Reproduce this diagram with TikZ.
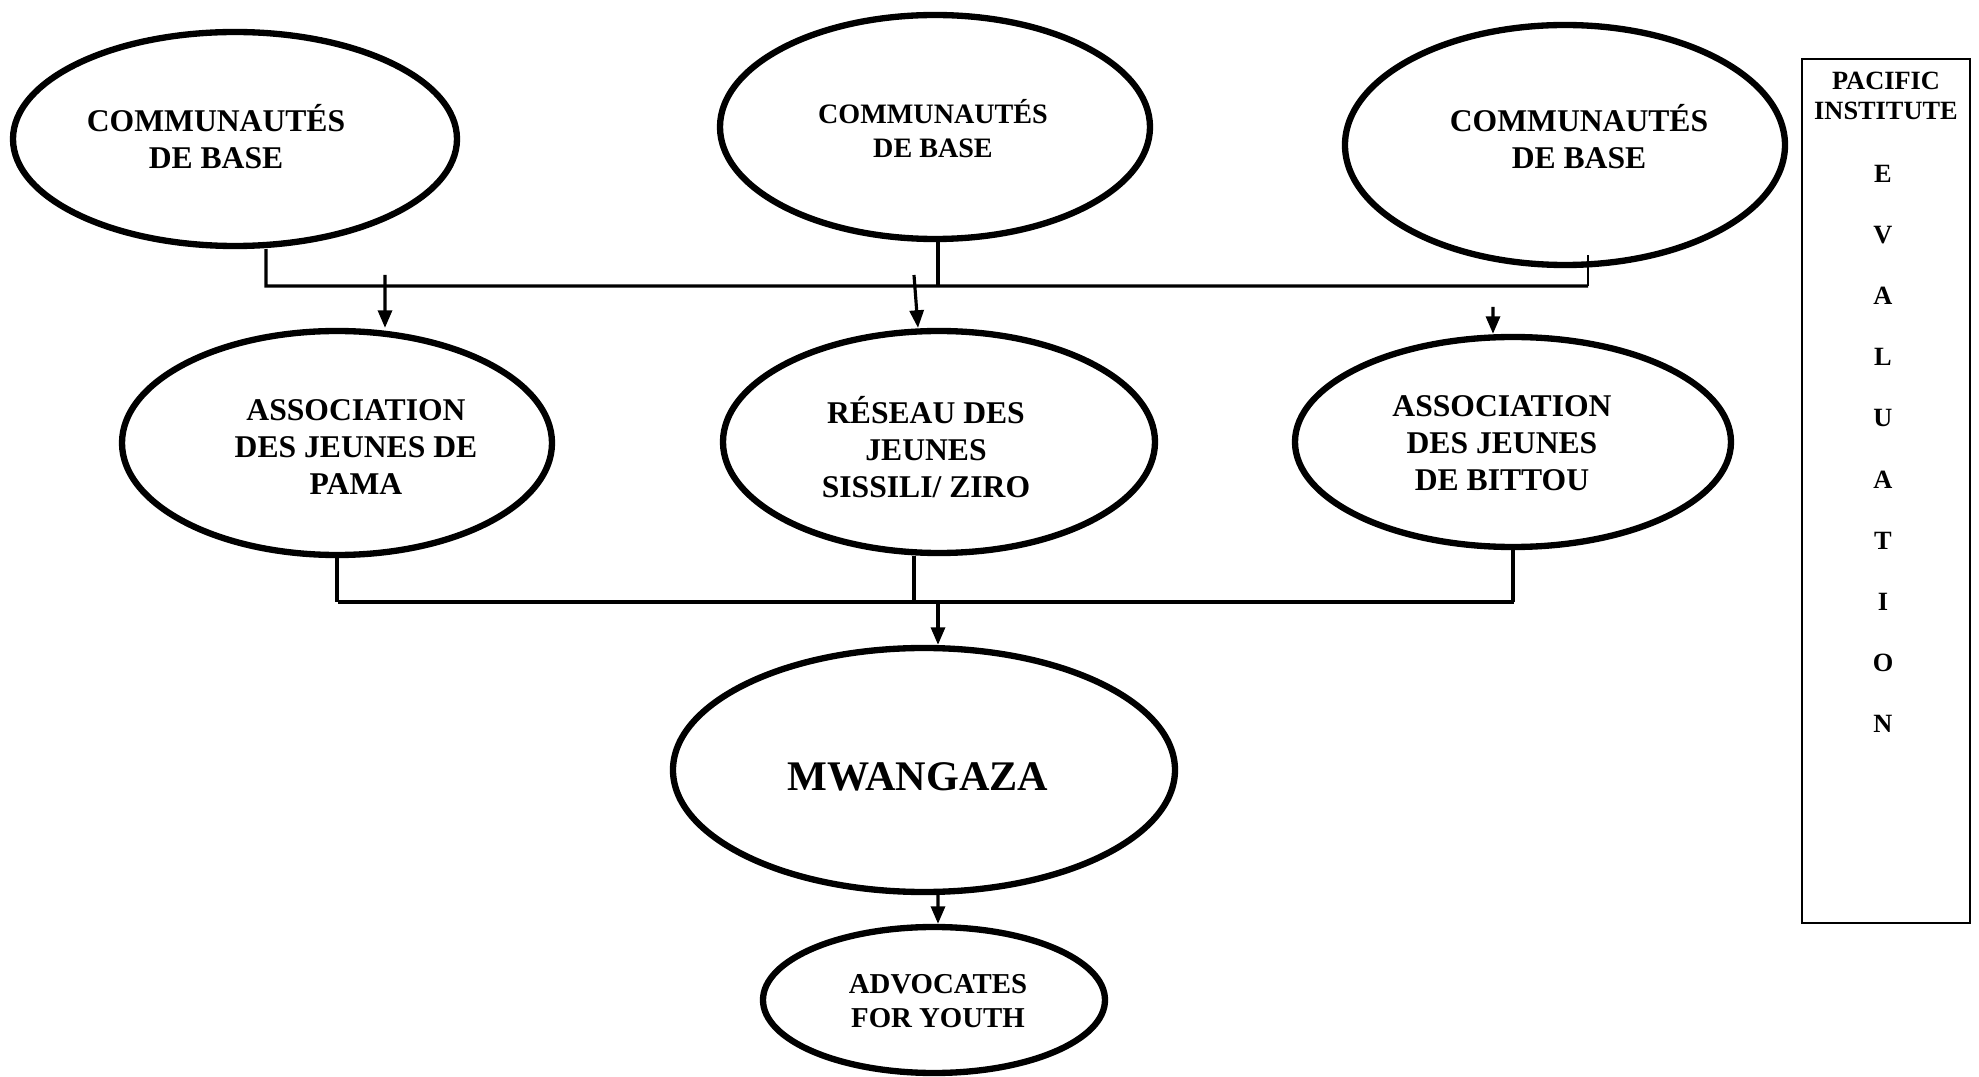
\documentclass[tikz,border=0pt]{standalone}
\usepackage{fontspec}
\setmainfont{Liberation Serif}
\usetikzlibrary{arrows.meta,shapes.geometric}

\begin{document}
\begin{tikzpicture}[
  bubble/.style={ellipse, draw, line width=1.8pt, inner sep=0pt},
  txt/.style={font=\fontsize{9}{10.5}\selectfont\bfseries, align=center, inner sep=0pt},
  link/.style={line width=0.9pt},
  arr/.style={link, -{Triangle[length=5pt,width=4pt]}}]
  \useasboundingbox (0,0) rectangle (19.79,-10.77);
  % top row
  \node[bubble, minimum width=4.44cm, minimum height=2.14cm] (c1) at (2.35,-1.39) {};
  \node[bubble, minimum width=4.30cm, minimum height=2.24cm] (c2) at (9.35,-1.27) {};
  \node[bubble, minimum width=4.40cm, minimum height=2.40cm] (c3) at (15.65,-1.45) {};
  \node[txt] (t1) at (2.16,-1.37) {COMMUNAUTÉS\\DE BASE};
  \node[txt, font=\fontsize{8}{9.7}\selectfont\bfseries] (t2) at (9.33,-1.29) {COMMUNAUTÉS\\DE BASE};
  \node[txt] (t3) at (15.79,-1.37) {COMMUNAUTÉS\\DE BASE};
  % middle row
  \node[bubble, minimum width=4.30cm, minimum height=2.24cm] (a1) at (3.37,-4.43) {};
  \node[bubble, minimum width=4.32cm, minimum height=2.22cm] (a2) at (9.39,-4.42) {};
  \node[bubble, minimum width=4.36cm, minimum height=2.10cm] (a3) at (15.13,-4.42) {};
  \node[txt] (t4) at (3.56,-4.47) {ASSOCIATION\\DES JEUNES DE\\PAMA};
  \node[txt] (t5) at (9.26,-4.47) {RÉSEAU DES\\JEUNES\\SISSILI/ ZIRO};
  \node[txt] (t6) at (15.02,-4.43) {ASSOCIATION\\DES JEUNES\\DE BITTOU};
  % bottom
  \node[bubble, minimum width=5.02cm, minimum height=2.44cm] (m) at (9.24,-7.70) {};
  \node[txt, font=\fontsize{12}{14}\selectfont\bfseries] (t7) at (9.18,-7.77) {MWANGAZA};
  \node[bubble, minimum width=3.42cm, minimum height=1.46cm] (ay) at (9.34,-10.00) {};
  \node[txt, font=\fontsize{8.2}{9.7}\selectfont\bfseries] (t8) at (9.38,-10.01) {ADVOCATES\\FOR YOUTH};
  % side box
  \node[draw, line width=0.8pt, minimum width=1.68cm, minimum height=8.64cm, inner sep=0pt] (pi) at (18.86,-4.91) {};
  \node[txt, font=\fontsize{7.5}{8.5}\selectfont\bfseries] (t9) at (18.86,-0.96) {PACIFIC\\INSTITUTE};
  \foreach \l [count=\i] in {E,V,A,L,U,A,T,I,O,N}
    \node[txt, font=\fontsize{7.5}{8.5}\selectfont\bfseries] (ev\i) at (18.83,{-1.74-0.611*(\i-1)}) {\l};

  % upper bus
  \coordinate (ub1) at (2.66,-2.86);
  \coordinate (ub2) at (15.88,-2.86);
  \draw[link] ([xshift=3.1mm]c1.south) -- (ub1) -- (ub2);
  \draw[link] ([xshift=0.3mm]c2.south) -- ([xshift=0.3mm]c2.south |- ub1);
  \draw[line width=0.5pt] ([xshift=2.3mm,yshift=1.3mm]c3.south) -- (ub2);
  \coordinate (d1) at (3.85,-2.75);
  \coordinate (d2) at (9.14,-2.75);
  \coordinate (d3) at (14.93,-3.07);
  \draw[arr] (d1) -- ([xshift=4.8mm]a1.north);
  \draw[arr] (d2) -- ([xshift=-2.1mm]a2.north);
  \draw[arr] (d3) -- ([xshift=-2mm]a3.north);

  % lower bus
  \coordinate (lb1) at (3.38,-6.02);
  \coordinate (lb2) at (15.14,-6.02);
  \coordinate (lb0) at (9.38,-6.02);
  \draw[link] (a1.south) -- (a1.south |- lb1);
  \draw[link] ([xshift=-2.5mm]a2.south) -- ([xshift=-2.5mm]a2.south |- lb1);
  \draw[link] (a3.south) -- (a3.south |- lb2);
  \draw[line width=1.3pt] (lb1) -- (lb2);
  \draw[arr] (lb0) -- ([xshift=1.4mm]m.north);
  \draw[arr] ([xshift=1.4mm]m.south) -- ([xshift=0.4mm]ay.north);
\end{tikzpicture}
\end{document}
